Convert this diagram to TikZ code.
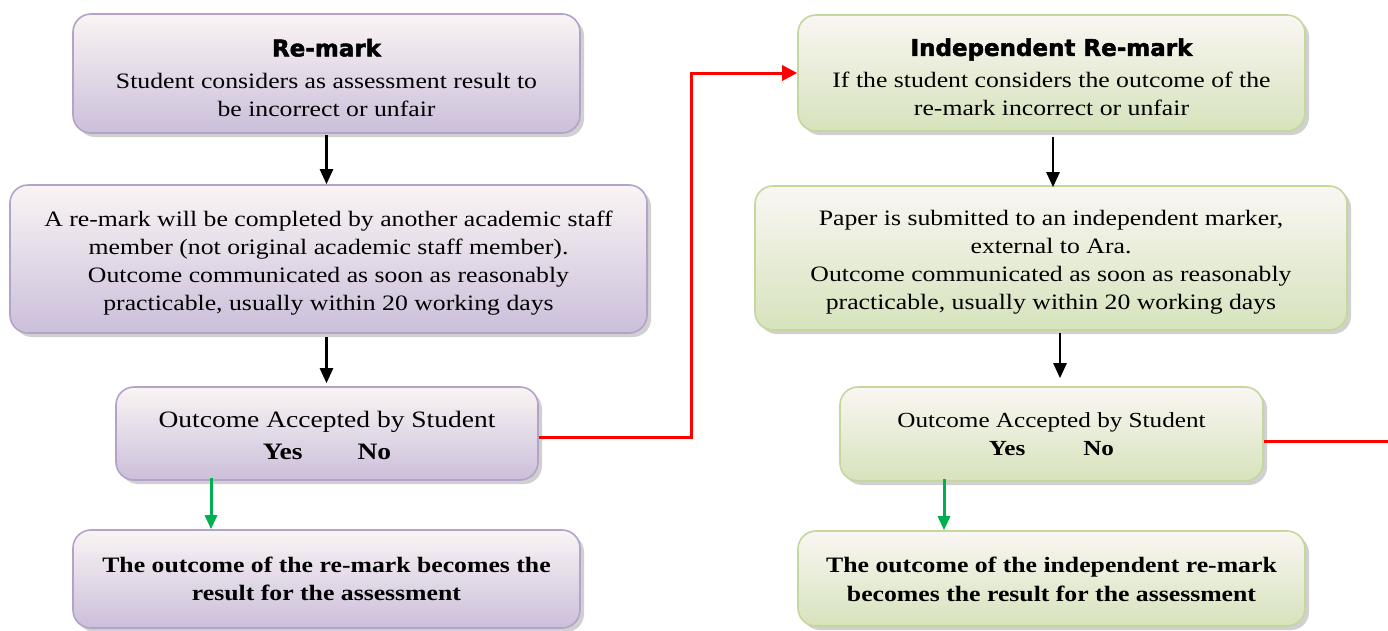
\documentclass[tikz,border=0pt]{standalone}
\usepackage{fontspec}
\setmainfont{Liberation Serif}[FakeStretch=1.17]
\newfontfamily\headfont{DejaVu Sans Bold}[FakeBold=2]
\usetikzlibrary{arrows.meta,shadows,calc}
\definecolor{purpTop}{HTML}{FAF4F4}
\definecolor{purpBot}{HTML}{CBBFDA}
\definecolor{purpLine}{HTML}{B4A3C9}
\definecolor{grnTop}{HTML}{FAF6F3}
\definecolor{grnBot}{HTML}{D6E3BC}
\definecolor{grnLine}{HTML}{C4D79D}
\definecolor{arrRed}{HTML}{FF0000}
\definecolor{arrGreen}{HTML}{00B050}
\tikzset{
  box/.style={rounded corners=18pt, line width=1.6pt, align=center, inner sep=0pt,
    drop shadow={shadow xshift=4pt, shadow yshift=-4pt, opacity=0.3, fill=black!60},
    font={\fontsize{22}{28}\selectfont}},
  purp/.style={box, draw=purpLine, top color=purpTop, bottom color=purpBot},
  grn/.style={box, draw=grnLine, top color=grnTop, bottom color=grnBot},
  blackarrow/.style={line width=2.5pt, draw=black, -{Triangle[width=13pt,length=15pt]}},
  greenarrow/.style={line width=3pt, draw=arrGreen, -{Triangle[width=12pt,length=14pt]}},
  redline/.style={line width=3pt, draw=arrRed},
  redarrow/.style={redline, -{Triangle[width=15pt,length=15pt]}}
}
\newcommand{\hd}[1]{{\headfont\fontsize{23}{26}\selectfont #1}}
\newcommand{\dn}[1]{\rule{0pt}{#1}}
\begin{document}
\begin{tikzpicture}[x=1pt,y=-1pt]
\useasboundingbox[fill=white] (0,0) rectangle (1388,630);
% left column
\node[purp, minimum width=507pt, minimum height=119pt] (L1) at (326.5,73.5)
  {\dn{26pt}\hd{Re-mark}\\[4pt] Student considers as assessment result to\\ be incorrect or unfair};
\node[purp, minimum width=637pt, minimum height=148pt] (L2) at (328.5,259)
  {\dn{23pt}A re-mark will be completed by another academic staff\\ member (not original academic staff member).\\ Outcome communicated as soon as reasonably\\ practicable, usually within 20 working days};
\node[purp, minimum width=422pt, minimum height=93pt, font={\fontsize{23.5}{32}\selectfont}] (L3) at (327,433.5)
  {\dn{20pt}Outcome Accepted by Student\\ \textbf{Yes}\hspace{55pt}\textbf{No}};
\node[purp, minimum width=507pt, minimum height=98pt, font={\fontsize{22}{28}\selectfont\bfseries}] (L4) at (326.5,579)
  {The outcome of the re-mark becomes the\\ result for the assessment};
% right column
\node[grn, minimum width=507pt, minimum height=116pt] (R1) at (1051.5,73)
  {\dn{26pt}\hd{Independent Re-mark}\\[4pt] If the student considers the outcome of the\\ re-mark incorrect or unfair};
\node[grn, minimum width=592pt, minimum height=144pt] (R2) at (1051,258)
  {\dn{23pt}Paper is submitted to an independent marker,\\ external to Ara.\\ Outcome communicated as soon as reasonably\\ practicable, usually within 20 working days};
\node[grn, minimum width=423pt, minimum height=94pt, font={\fontsize{21.5}{28}\selectfont}] (R3) at (1051.5,434)
  {Outcome Accepted by Student\\ \textbf{Yes}\hspace{58pt}\textbf{No}};
\node[grn, minimum width=507pt, minimum height=95pt, font={\fontsize{22}{29}\selectfont\bfseries}] (R4) at (1051.5,578.5)
  {\dn{18pt}The outcome of the independent re-mark\\ becomes the result for the assessment};
% connectors
\draw[blackarrow, shorten <=1pt] (L1.south) -- (L1.south |- L2.north);
\draw[blackarrow, shorten <=3pt, shorten >=3pt] ([xshift=-2pt]L2.south) -- ([xshift=-2pt]L2.south |- L3.north);
\draw[greenarrow, shorten <=-3pt] ([xshift=-116pt]L3.south) -- ([xshift=-116pt]L3.south |- L4.north);
\draw[redarrow] ([yshift=-3.5pt]L3.east) -| ([xshift=-106pt]R1.west) -- (R1.west);
\draw[blackarrow, shorten <=5pt, shorten >=-2pt] ([xshift=1.5pt]R1.south) -- ([xshift=1.5pt]R1.south |- R2.north);
\draw[blackarrow, shorten <=2pt, shorten >=8pt] ([xshift=9pt]R2.south) -- ([xshift=9pt]R2.south |- R3.north);
\draw[greenarrow, shorten <=-3pt] ([xshift=-107.5pt]R3.south) -- ([xshift=-107.5pt]R3.south |- R4.north);
\coordinate (rightend) at (1390,441);
\draw[redline] ([yshift=-7pt]R3.east) -- (rightend);
\end{tikzpicture}
\end{document}
